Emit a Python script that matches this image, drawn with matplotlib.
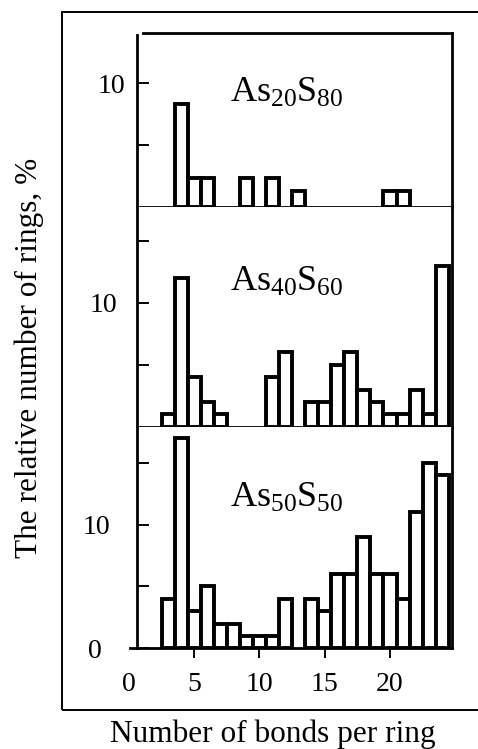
import matplotlib
matplotlib.use('Agg')
import matplotlib.pyplot as plt
from matplotlib.patches import Rectangle

plt.rcParams['font.family'] = ['Liberation Serif', 'DejaVu Serif']
plt.rcParams['mathtext.fontset'] = 'custom'
plt.rcParams['mathtext.rm'] = 'Liberation Serif'
plt.rcParams['mathtext.it'] = 'Liberation Serif:italic'
plt.rcParams['mathtext.bf'] = 'Liberation Serif:bold'

# ---------------- data ----------------
bonds = [3, 4, 5, 6, 7, 8, 9, 10, 11, 12, 13, 14, 15, 16, 17, 18, 19, 20, 21, 22, 23, 24]
as20s80 = [0, 8.3, 2.3, 2.3, 0, 0, 2.3, 0, 2.3, 0, 1.3, 0, 0, 0, 0, 0, 0, 1.3, 1.3, 0, 0, 0]
as40s60 = [1, 12, 4, 2, 1, 0, 0, 0, 4, 6, 0, 2, 2, 5, 6, 3, 2, 1, 1, 3, 1, 13]
as50s50 = [4, 17, 3, 5, 2, 2, 1, 1, 1, 4, 0, 4, 3, 6, 6, 9, 6, 6, 4, 11, 15, 14]
panel_labels = [r'$\mathrm{As_{20}S_{80}}$', r'$\mathrm{As_{40}S_{60}}$', r'$\mathrm{As_{50}S_{50}}$']
x_ticks = [0, 5, 10, 15, 20]
x_ticklabels = ['0', '5', '10', '15', '20']
y_ticks_top = [5, 10]
y_ticklabels_top = ['', '10']
y_ticks_mid = [5, 10, 15]
y_ticklabels_mid = ['', '10', '']
y_ticks_bot = [0, 5, 10, 15]
y_ticklabels_bot = ['0', '', '10', '']
xlabel = 'Number of bonds per ring'
ylabel = 'The relative number of rings, %'

# ---------------- layout ----------------
W, H = 478, 749
fig = plt.figure(figsize=(W / 100, H / 100), dpi=100)

def rect(l, t, r, b):
    return [l / W, (H - b) / H, (r - l) / W, (b - t) / H]

XMAX = 24.73
XSPINE = 0.64
ax_top = fig.add_axes(rect(129, 33.3, 451.7, 206.7))
ax_mid = fig.add_axes(rect(129, 206.7, 451.7, 426.7))
ax_bot = fig.add_axes(rect(129, 426.7, 451.7, 648.3))
axes = [ax_top, ax_mid, ax_bot]
series = [as20s80, as40s60, as50s50]
ylims = [14.06, 17.78, 17.91]
label_y = [8.5, 11.0, 11.4]

for ax, vals, ylim, lab, ly in zip(axes, series, ylims, panel_labels, label_y):
    xs = [b for b, v in zip(bonds, vals) if v > 0]
    hs = [v for v in vals if v > 0]
    bars = ax.bar(xs, hs, width=1.0, facecolor='white', edgecolor='black',
                  linewidth=2.8, align='center', zorder=3)
    for p in bars:
        p.set_joinstyle('miter')
    ax.set_xlim(0, XMAX)
    ax.set_ylim(0, ylim)
    for s in ax.spines.values():
        s.set_linewidth(2.0)
    ax.spines['left'].set_position(('data', XSPINE))
    ax.spines['bottom'].set_bounds(XSPINE, XMAX)
    ax.spines['top'].set_visible(False)
    ax.tick_params(axis='y', direction='in', length=8.5, width=1.4, labelsize=20)
    ax.tick_params(axis='x', direction='out', length=7.5, width=1.4, labelsize=20, pad=9.5)
    ax.text(7.74, ly, lab, fontsize=26, ha='left', va='baseline')

# top panel
ax_top.spines['top'].set_visible(True)
ax_top.spines['top'].set_bounds(1.07, XMAX)
ax_top.spines['left'].set_bounds(0, 13.93)
ax_top.set_xticks(x_ticks[1:])
ax_top.tick_params(axis='x', labelbottom=False)
ax_top.set_yticks(y_ticks_top)
ax_top.set_yticklabels(y_ticklabels_top)
ax_top.tick_params(axis='y', pad=8.9)

# middle panel
ax_mid.set_xticks(x_ticks[1:])
ax_mid.tick_params(axis='x', labelbottom=False)
ax_mid.set_yticks(y_ticks_mid)
ax_mid.set_yticklabels(y_ticklabels_mid)
ax_mid.tick_params(axis='y', pad=14.4)

# bottom panel
ax_bot.spines['bottom'].set_bounds(0.08, XMAX)
ax_bot.set_xticks(x_ticks)
ax_bot.set_xticklabels(x_ticklabels)
ax_bot.set_yticks(y_ticks_bot)
ax_bot.set_yticklabels(y_ticklabels_bot)
ax_bot.tick_params(axis='y', pad=19.7)
ax_bot.xaxis.get_major_ticks()[0].tick1line.set_visible(False)
ax_bot.yaxis.get_major_ticks()[0].set_pad(25.6)

# axis titles
fig.text(29 / W, 1 - 358 / H, ylabel, rotation=90, ha='center', va='center', fontsize=22.5)
fig.text(273.3 / W, (H - 742) / H, xlabel, ha='center', va='baseline', fontsize=22.5)

# outer frame
fig.patches.append(Rectangle((62 / W, (H - 709.5) / H), 1.2, (709.5 - 12) / H,
                             transform=fig.transFigure, fill=False,
                             edgecolor='black', linewidth=1.4))

fig.savefig('out.png', dpi=100)
